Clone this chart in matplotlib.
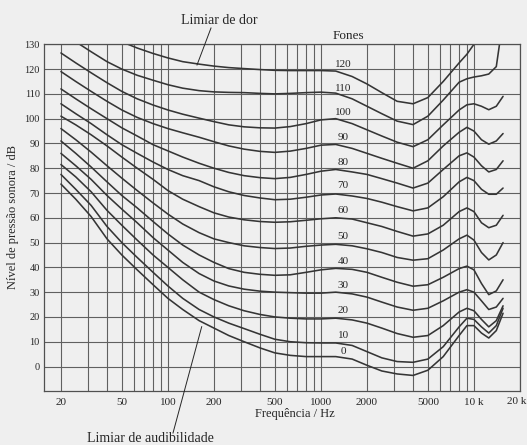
import numpy as np
import matplotlib
matplotlib.use("Agg")
import matplotlib.pyplot as plt
from matplotlib.lines import Line2D
from matplotlib.ticker import LogLocator, FixedLocator, NullFormatter

plt.rcParams['font.family'] = ['Liberation Serif', 'DejaVu Serif']

nan = np.nan

freqs = [20, 25, 31.5, 40, 50, 63, 80, 100, 125, 160, 200, 250, 315, 400, 500, 630,
         800, 1000, 1250, 1600, 2000, 2500, 3150, 4000, 5000, 6300, 8000, 9000,
         10000, 11200, 12500, 14000, 15500]

# sound pressure level (dB) of each equal-loudness contour (fones)
fon_0 = [73.6, 67.5, 60.5, 51.5, 45, 39, 33, 27.5, 23, 18.5, 15.5, 12.5, 10, 7.5, 5.5, 4.5,
         4, 4, 4, 3, 0.5, -1.8, -3, -3.6, -1.5, 4, 12.5, 16.5, 16.5, 13.5, 11.5, 14.5, 21.5]
fon_10 = [77.5, 71.5, 65, 56.5, 50, 44, 38, 32.5, 27.5, 23, 20, 17.5, 15.3, 13, 11, 10,
          9.6, 9.5, 9.5, 8.5, 6, 3.5, 2, 1.7, 3, 8, 16, 19.5, 19, 16, 13.5, 16.5, 23.5]
fon_20 = [81.5, 76.5, 70.5, 63, 57, 51, 45, 40, 35, 30, 27, 24.5, 22.5, 21, 20, 19.5,
          19.2, 19.2, 19.5, 18.8, 17.5, 15.5, 13.3, 11.8, 12.5, 16.5, 22, 23.5, 22.5, 19, 16, 18.5, 24.5]
fon_30 = [86, 81, 75.5, 69, 63.5, 58, 52, 47, 42, 37.5, 34.5, 32.5, 31.2, 30.4, 30, 29.8,
          29.6, 29.6, 30, 29.3, 28, 26, 24, 22.7, 23.5, 26.5, 30, 31, 30, 26.5, 23, 24, 27.5]
fon_40 = [91, 86, 80.5, 74.5, 69, 64, 58.5, 53.5, 49, 45, 42, 39.5, 38, 37.2, 36.8, 37,
          38, 39, 39.6, 39.2, 38, 36, 34, 32.4, 33, 36, 39.5, 40.5, 39, 33.5, 29, 30.5, 35]
fon_50 = [96, 91.5, 86.5, 81, 76, 71, 66, 61.5, 57.5, 54, 51.5, 50, 48.7, 48, 47.6, 47.8,
          48.5, 49, 49.3, 48.7, 47.5, 46, 44, 42.9, 43.5, 47, 51.5, 53, 51, 46, 43, 45, 50]
fon_60 = [101, 97.5, 93.5, 89, 84.5, 80, 75.5, 71, 67.5, 64.5, 62, 60.3, 59.2, 58.5, 58.2, 58.4,
          59, 59.6, 60, 59.5, 58, 56.5, 54.5, 52.6, 53.5, 57, 62.5, 64, 62.5, 58, 56, 57, 61]
fon_70 = [106, 102, 98, 93.5, 89.5, 86, 82.5, 79.5, 77, 75, 72.5, 70.5, 69, 68, 67.3, 67.5,
          68.3, 69.2, 69.6, 68.8, 67.8, 66.3, 64.5, 62.8, 64, 68.5, 74.5, 76.3, 75, 71.5, 69.5, 69.5, 72]
fon_80 = [112, 108, 104, 100, 96.3, 93, 89.5, 87, 84.5, 82, 80, 78.3, 77, 76.2, 75.8, 76.3,
          77.5, 78.8, 79.5, 78.5, 77.5, 75.8, 74, 72, 74, 79.5, 85, 86.2, 84.5, 81, 78.5, 79.5, 83]
fon_90 = [119, 115, 111, 107, 103.5, 100.5, 98, 96, 94.3, 92.5, 90.7, 89, 87.7, 86.8, 86.4, 86.9,
          88, 89.3, 89.6, 88, 86, 84, 82, 80, 83, 89, 94.5, 96.5, 95, 91.5, 89.7, 91, 94]
fon_100 = [126.5, 122.5, 118.5, 114.5, 111, 108, 105.5, 103.5, 101.8, 100.2, 98.8, 97.5, 96.7, 96.3, 96.2, 96.8,
           98, 99.5, 100, 98, 95.5, 93, 90.5, 88.7, 91.5, 97.5, 103.5, 105.6, 106, 105, 103.6, 105, 109]
fon_110 = [nan, 131, 127, 123, 120, 117.5, 115.5, 113.7, 112.3, 111.3, 110.8, 110.6, 110.5, 110.2, 110, 110.2,
           110.5, 110.7, 110.3, 108, 105, 102, 99, 97.6, 101, 107.5, 114.7, 116.1, 116.8, 117.3, 118, 121, 140]
fon_120 = [nan, nan, nan, nan, 131, 128.5, 126.3, 124.5, 123, 122, 121.2, 120.6, 120.2, 119.8, 119.5, 119.4,
           119.4, 119.4, 119.2, 117, 114, 110.5, 107, 106, 108.5, 115, 122.5, 126, 130, 134, nan, nan, nan]

curves = [fon_0, fon_10, fon_20, fon_30, fon_40, fon_50, fon_60,
          fon_70, fon_80, fon_90, fon_100, fon_110, fon_120]

# labels of the contours and where they sit (dB)
fon_names = ["0", "10", "20", "30", "40", "50", "60", "70", "80", "90", "100", "110", "120"]
fon_label_y = [6, 12.5, 22.6, 32.7, 42.3, 52.4, 62.9, 73, 82.3, 92.3, 102.4, 112.1, 121.8]

xtick_vals = [20, 50, 100, 200, 500, 1000, 2000, 5000, 10000, 20000]
xtick_text = ["20", "50", "100", "200", "500", "1000", "2000", "5000", "10 k", ""]

bg = "#efefef"
ink = "#262626"
W, H = 527, 445

fig = plt.figure(figsize=(W / 100, H / 100), dpi=100, facecolor=bg)
ax = fig.add_axes([44 / W, 1 - 391.3 / H, 476 / W, 347 / H])
ax.set_facecolor(bg)
ax.set_xscale("log")
ax.set_xlim(15.5, 20000)
ax.set_ylim(-10, 130)

# grid
ax.xaxis.set_major_locator(FixedLocator(xtick_vals))
ax.set_xticklabels(xtick_text)
ax.xaxis.set_minor_locator(LogLocator(base=10, subs=np.arange(1, 10)))
ax.xaxis.set_minor_formatter(NullFormatter())
ax.set_yticks(range(0, 131, 10))
ax.grid(True, which="both", axis="x", color="#606060", lw=0.8)
ax.grid(True, which="major", axis="y", color="#606060", lw=0.8)
ax.tick_params(which="both", length=0, colors=ink)
ax.tick_params(axis="x", labelsize=8, pad=4.5)
ax.tick_params(axis="y", labelsize=7.5, pad=3)
for s in ax.spines.values():
    s.set_color("#505050")
    s.set_linewidth(0.9)

for c in curves:
    ax.plot(freqs, c, color="#353535", lw=1.15, solid_capstyle="round")

for name, yy in zip(fon_names, fon_label_y):
    ax.text(1400, yy, name, ha="center", va="center", fontsize=8, color=ink)

# last frequency label sits at the right edge
fig.text(526 / W, 1 - 401.5 / H, "20 k", ha="right", va="center", fontsize=8, color=ink)

fig.text(13 / W, 1 - 217 / H, "Nível de pressão sonora / dB", rotation=90,
         ha="center", va="center", fontsize=9, color=ink)
fig.text(295 / W, 1 - 414 / H, "Frequência / Hz", ha="center", va="center",
         fontsize=9, color=ink)
fig.text(348 / W, 1 - 36 / H, "Fones", ha="center", va="center", fontsize=9.5, color=ink)
fig.text(219 / W, 1 - 21 / H, "Limiar de dor", ha="center", va="center",
         fontsize=10, color=ink)
fig.text(150 / W, 1 - 438 / H, "Limiar de audibilidade", ha="center", va="center",
         fontsize=10, color=ink)

# leader lines to the two thresholds
fig.add_artist(Line2D([211 / W, 197 / W], [1 - 28 / H, 1 - 65 / H],
                      transform=fig.transFigure, color=ink, lw=0.7))
fig.add_artist(Line2D([173 / W, 201.7 / W], [1 - 433 / H, 1 - 326.7 / H],
                      transform=fig.transFigure, color=ink, lw=0.7))

fig.savefig("out.png", dpi=100, facecolor=bg)
